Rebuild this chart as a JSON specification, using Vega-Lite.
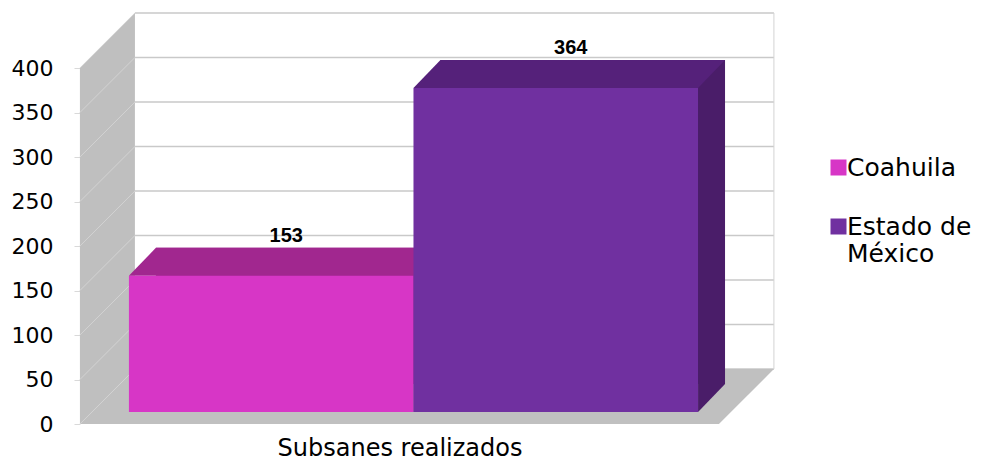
{
  "$schema": "https://vega.github.io/schema/vega-lite/v6.json",
  "width": 639,
  "height": 356,
  "autosize": "none",
  "padding": {"left": 80, "top": 68, "right": 264, "bottom": 38},
  "background": "white",
  "config": {
    "view": {"stroke": null},
    "font": "DejaVu Sans",
    "axisX": {"labels": false, "ticks": false, "domain": false, "grid": false, "titleFont": "DejaVu Sans", "titleFontSize": 24, "titleFontWeight": "normal", "titleColor": "black", "titlePadding": 12},
    "axisY": {"tickCount": 8, "domain": false, "grid": false, "tickSize": 6, "tickColor": "#d9d9d9", "labelFont": "DejaVu Sans", "labelFontSize": 22, "labelColor": "black", "labelPadding": 21}
  },
  "datasets": {
    "subsanes": [
      {"categoria": "Subsanes realizados", "estado": "Coahuila", "valor": 153},
      {"categoria": "Subsanes realizados", "estado": "Estado de México", "valor": 364}
    ],
    "rejilla": [{"v": 0}, {"v": 50}, {"v": 100}, {"v": 150}, {"v": 200}, {"v": 250}, {"v": 300}, {"v": 350}, {"v": 400}],
    "marco": [{"pieza": "marco"}]
  },
  "resolve": {"scale": {"color": "independent"}},
  "layer": [
    {
      "data": {"name": "rejilla"},
      "mark": {"type": "point", "shape": "M6,-55L645,-55", "size": 4, "filled": false, "stroke": "#c9c9c9", "strokeWidth": 1.5, "opacity": 1},
      "encoding": {
        "x": {"datum": "Coahuila", "type": "nominal", "bandPosition": 0, "title": "Subsanes realizados"},
        "y": {"field": "v", "type": "quantitative", "title": null}
      }
    },
    {
      "data": {"name": "marco"},
      "mark": {"type": "point", "shape": "M-49,0L-49,-356L6,-411L6,-55Z", "size": 4, "filled": true, "fill": "#bfbfbf", "strokeWidth": 0, "opacity": 1},
      "encoding": {
        "x": {"datum": "Coahuila", "type": "nominal", "bandPosition": 0, "title": "Subsanes realizados"},
        "y": {"datum": 0, "type": "quantitative", "title": null}
      }
    },
    {
      "data": {"name": "marco"},
      "mark": {"type": "point", "shape": "M-49,0L590,0L645,-55L6,-55Z", "size": 4, "filled": true, "fill": "#c0c0c0", "strokeWidth": 0, "opacity": 1},
      "encoding": {
        "x": {"datum": "Coahuila", "type": "nominal", "bandPosition": 0, "title": "Subsanes realizados"},
        "y": {"datum": 0, "type": "quantitative", "title": null}
      }
    },
    {
      "data": {"name": "marco"},
      "mark": {"type": "point", "shape": "M645,-55L645,-411", "size": 4, "filled": false, "stroke": "#d4d4d4", "strokeWidth": 1, "opacity": 1},
      "encoding": {
        "x": {"datum": "Coahuila", "type": "nominal", "bandPosition": 0, "title": "Subsanes realizados"},
        "y": {"datum": 0, "type": "quantitative", "title": null}
      }
    },
    {
      "data": {"name": "rejilla"},
      "mark": {"type": "point", "shape": "M-49,0L6,-55", "size": 4, "filled": false, "stroke": "#d3d3d3", "strokeWidth": 1, "opacity": 1},
      "encoding": {
        "x": {"datum": "Coahuila", "type": "nominal", "bandPosition": 0, "title": "Subsanes realizados"},
        "y": {"field": "v", "type": "quantitative", "title": null}
      }
    },
    {
      "data": {"name": "subsanes"},
      "mark": {"type": "bar", "xOffset": 27, "x2Offset": 27, "yOffset": -40, "y2Offset": -40, "opacity": 1},
      "encoding": {
        "x": {"field": "estado", "type": "nominal", "title": "Subsanes realizados"},
        "y": {"field": "valor", "type": "quantitative", "title": null},
        "color": {"field": "estado", "type": "nominal", "legend": null, "scale": {"domain": ["Coahuila", "Estado de México"], "range": ["#a1278f", "#4a1d69"]}}
      }
    },
    {
      "data": {"name": "subsanes"},
      "mark": {"type": "point", "shape": "M142.3,-12L142.3,-40L169.3,-40Z", "size": 4, "filled": true, "strokeWidth": 0, "opacity": 1},
      "encoding": {
        "x": {"field": "estado", "type": "nominal", "title": "Subsanes realizados"},
        "y": {"datum": 0, "type": "quantitative", "title": null},
        "color": {"field": "estado", "type": "nominal", "legend": null, "scale": {"domain": ["Coahuila", "Estado de México"], "range": ["#a1278f", "#4a1d69"]}}
      }
    },
    {
      "data": {"name": "subsanes"},
      "mark": {"type": "point", "shape": "M-142.3,-12L142.3,-12L169.3,-40L-115.3,-40Z", "size": 4, "filled": true, "strokeWidth": 0, "opacity": 1},
      "encoding": {
        "x": {"field": "estado", "type": "nominal", "title": "Subsanes realizados"},
        "y": {"field": "valor", "type": "quantitative", "title": null},
        "color": {"field": "estado", "type": "nominal", "legend": null, "scale": {"domain": ["Coahuila", "Estado de México"], "range": ["#a1278f", "#55217a"]}}
      }
    },
    {
      "data": {"name": "subsanes"},
      "mark": {"type": "bar", "yOffset": -12, "y2Offset": -12, "opacity": 1},
      "encoding": {
        "x": {
          "field": "estado", "type": "nominal", "title": "Subsanes realizados",
          "scale": {"domain": ["Coahuila", "Estado de México"], "paddingInner": 0, "paddingOuter": 0.1228, "align": 0.7}
        },
        "y": {
          "field": "valor", "type": "quantitative", "title": null,
          "scale": {"domain": [0, 400], "nice": false}
        },
        "color": {
          "field": "estado", "type": "nominal",
          "scale": {"domain": ["Coahuila", "Estado de México"], "range": ["#d736c6", "#7030a0"]},
          "legend": {"orient": "none", "legendX": 746, "legendY": 87, "title": null, "symbolType": "square", "symbolSize": 256, "symbolStrokeWidth": 0, "labelFont": "DejaVu Sans", "labelFontSize": 25, "labelColor": "black", "labelOffset": -4, "rowPadding": 33, "padding": 0, "labelLimit": 300, "labelExpr": "datum.label == 'Estado de México' ? ['Estado de', 'México'] : datum.label"}
        }
      }
    },
    {
      "data": {"name": "subsanes"},
      "mark": {"type": "text", "font": "Liberation Sans", "fontWeight": "bold", "fontSize": 20, "dx": 15, "dy": -52, "baseline": "middle", "align": "center", "color": "black"},
      "encoding": {
        "x": {"field": "estado", "type": "nominal", "title": "Subsanes realizados"},
        "y": {"field": "valor", "type": "quantitative", "title": null},
        "text": {"field": "valor", "type": "quantitative"}
      }
    }
  ]
}
